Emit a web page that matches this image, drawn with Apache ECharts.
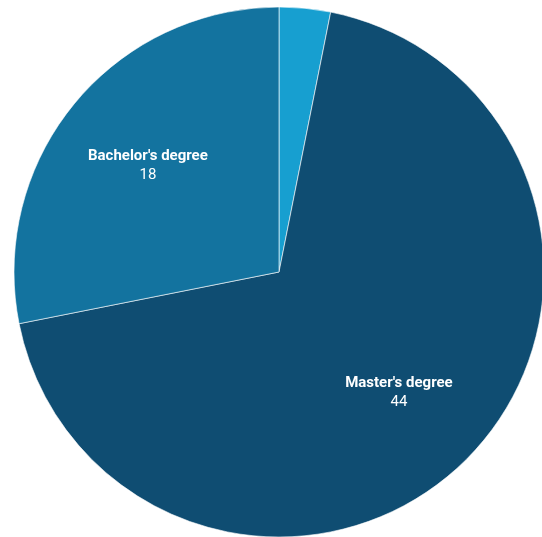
<!DOCTYPE html>
<html>
<head>
<meta charset="utf-8">
<script src="https://cdn.jsdelivr.net/npm/echarts@6/dist/echarts.min.js"></script>
<style>
  html, body { margin: 0; padding: 0; background: #fff; }
  #chart { width: 542px; height: 537px; }
</style>
</head>
<body>
<div id="chart"></div>
<script>
const degrees = ['Doctoral degree', "Master's degree", "Bachelor's degree"]
const counts = [2, 44, 18]
const colors = ['#179fd0', '#0f4d72', '#13739f']

const cx = 279, cy = 272, R = 265

const chart = echarts.init(document.getElementById('chart'))

const option = {
  animation: false,
  series: [
    {
      type: 'pie',
      center: [cx, cy],
      radius: [0, R],
      startAngle: 90,
      clockwise: true,
      data: degrees.map((name, i) => ({
        name: name,
        value: counts[i],
        itemStyle: { color: colors[i] },
        label: { show: i !== 0 }
      })),
      itemStyle: {
        borderColor: 'rgba(255,255,255,0.6)',
        borderWidth: 1
      },
      label: {
        position: 'inside',
        fontFamily: 'Roboto',
        color: '#fff',
        formatter: '{b|{b}}\n{c|{c}}',
        rich: {
          b: { fontFamily: 'Roboto', fontSize: 15, fontWeight: 'bold', color: '#fff', lineHeight: 19 },
          c: { fontFamily: 'Roboto', fontSize: 15, color: '#fff', lineHeight: 19 }
        }
      },
      // push the inside labels a bit further out (~0.64 of the radius)
      labelLayout: function (params) {
        const r = params.labelRect
        const lx = r.x + r.width / 2, ly = r.y + r.height / 2
        const dx = lx - cx, dy = ly - cy
        const d = Math.sqrt(dx * dx + dy * dy) || 1
        const k = (0.64 * R) / d
        return { dx: dx * (k - 1), dy: dy * (k - 1) + 1 }
      }
    }
  ]
}

chart.setOption(option)
</script>
</body>
</html>
